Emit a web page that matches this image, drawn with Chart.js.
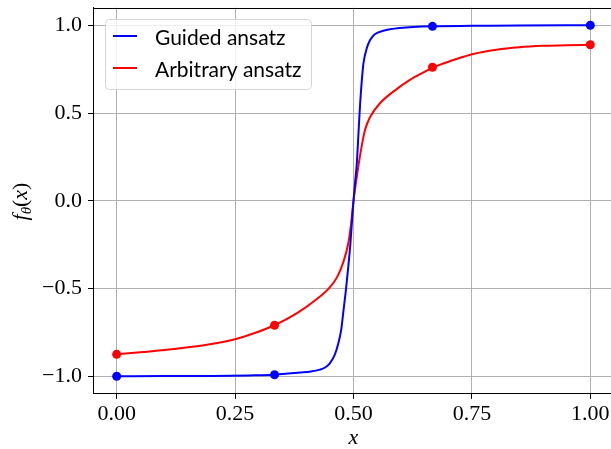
<!DOCTYPE html>
<html>
<head>
<meta charset="utf-8">
<script src="https://cdn.jsdelivr.net/npm/chart.js@4.4.0/dist/chart.umd.min.js"></script>
<style>
  html, body { margin: 0; padding: 0; background: #fff; overflow: hidden; }
</style>
</head>
<body>
<canvas id="graficoAnsatz" width="620" height="449"></canvas>
<script>
// curves
const guidedX = [0, 0.1, 0.2, 0.28, 0.333, 0.387, 0.41, 0.429, 0.44, 0.45, 0.461, 0.468, 0.474, 0.479, 0.484, 0.489, 0.4935, 0.497, 0.5, 0.5035, 0.507, 0.512, 0.5145, 0.518, 0.521, 0.528, 0.535, 0.545, 0.563, 0.598, 0.667, 0.75, 0.85, 1.0];
const guidedY = [-1.0, -0.999, -0.998, -0.995, -0.991, -0.979, -0.973, -0.962, -0.95, -0.926, -0.873, -0.812, -0.736, -0.622, -0.508, -0.375, -0.242, -0.11, 0.0, 0.11, 0.214, 0.46, 0.574, 0.70, 0.783, 0.869, 0.916, 0.949, 0.969, 0.985, 0.995, 0.997, 0.999, 1.0];

const arbitraryX = [0, 0.056, 0.127, 0.197, 0.25, 0.29, 0.333, 0.38, 0.42, 0.448, 0.466, 0.479, 0.489, 0.495, 0.5, 0.507, 0.514, 0.524, 0.535, 0.556, 0.587, 0.62, 0.645, 0.667, 0.711, 0.739, 0.75, 0.802, 0.85, 0.9, 0.95, 1.0];
const arbitraryY = [-0.875, -0.862, -0.843, -0.818, -0.789, -0.755, -0.709, -0.641, -0.565, -0.499, -0.432, -0.345, -0.242, -0.128, 0.0, 0.137, 0.26, 0.40, 0.477, 0.556, 0.628, 0.69, 0.728, 0.759, 0.802, 0.826, 0.835, 0.861, 0.875, 0.883, 0.887, 0.889];

// the four evaluation points (dots)
const sampleX = [0, 0.3333, 0.6667, 1.0];
const guidedSampleY = [-1.0, -0.991, 0.994, 1.0];
const arbitrarySampleY = [-0.875, -0.709, 0.761, 0.889];

const xTicks = [0, 0.25, 0.5, 0.75, 1.0];
const yTicks = [-1.0, -0.5, 0.0, 0.5, 1.0];
const seriesLabels = ['Guided ansatz', 'Arbitrary ansatz'];
const seriesColors = ['#0000ff', '#ff0000'];

const toPoints = (xs, ys) => xs.map((x, i) => ({ x: x, y: ys[i] }));
const serif = "'Liberation Serif', 'Times New Roman', serif";

// top spine, legend box and the y title with its subscript
const extras = {
  id: 'extras',
  afterDatasetsDraw(chart) {
    const { ctx, chartArea: a } = chart;
    ctx.save();
    ctx.strokeStyle = '#000';
    ctx.lineWidth = 1;
    ctx.beginPath();
    ctx.moveTo(a.left, Math.round(a.top) + 0.5);
    ctx.lineTo(a.right, Math.round(a.top) + 0.5);
    ctx.stroke();

    // legend
    ctx.beginPath();
    ctx.roundRect(105.5, 19.5, 206, 70, 4);
    ctx.fillStyle = 'rgba(255,255,255,0.8)';
    ctx.fill();
    ctx.strokeStyle = '#d6d6d6';
    ctx.stroke();
    ctx.font = "21px Lato, 'DejaVu Sans', sans-serif";
    ctx.textBaseline = 'alphabetic';
    ctx.textAlign = 'left';
    seriesLabels.forEach((label, i) => {
      const y = 36 + i * 32;
      ctx.strokeStyle = seriesColors[i];
      ctx.lineWidth = 2;
      ctx.beginPath();
      ctx.moveTo(113, y);
      ctx.lineTo(137, y);
      ctx.stroke();
      ctx.fillStyle = '#000';
      ctx.fillText(label, 155, y + 9);
    });
    ctx.restore();
  },
  afterDraw(chart) {
    const ctx = chart.ctx;
    ctx.save();
    ctx.translate(0, 201.5);
    ctx.rotate(-Math.PI / 2);
    ctx.fillStyle = '#000';
    ctx.textBaseline = 'alphabetic';
    const parts = [
      { t: 'f', f: 'italic 22px ' + serif, dy: 0 },
      { t: 'θ', f: 'italic 15px ' + serif, dy: 4 },
      { t: '(', f: '22px ' + serif, dy: 0 },
      { t: 'x', f: 'italic 22px ' + serif, dy: 0 },
      { t: ')', f: '22px ' + serif, dy: 0 }
    ];
    let w = 0;
    parts.forEach(p => { ctx.font = p.f; p.w = ctx.measureText(p.t).width; w += p.w; });
    let x = -w / 2;
    parts.forEach(p => {
      ctx.font = p.f;
      ctx.fillText(p.t, x, 27 + p.dy);
      x += p.w;
    });
    ctx.restore();
  }
};

const curve = (label, xs, ys, color) => ({
  label: label,
  data: toPoints(xs, ys),
  showLine: true,
  borderColor: color,
  borderWidth: 2,
  pointRadius: 0,
  cubicInterpolationMode: 'monotone'
});

const dots = (label, ys, color) => ({
  label: label,
  data: toPoints(sampleX, ys),
  backgroundColor: color,
  borderWidth: 0,
  pointRadius: 4.5
});

new Chart(document.getElementById('graficoAnsatz'), {
  type: 'scatter',
  data: {
    datasets: [
      curve(seriesLabels[0], guidedX, guidedY, seriesColors[0]),
      curve(seriesLabels[1], arbitraryX, arbitraryY, seriesColors[1]),
      dots('guided samples', guidedSampleY, seriesColors[0]),
      dots('arbitrary samples', arbitrarySampleY, seriesColors[1])
    ]
  },
  options: {
    responsive: false,
    animation: false,
    layout: { padding: { top: 7.75, right: 6, bottom: 0, left: 0 } },
    plugins: {
      legend: { display: false },
      tooltip: { enabled: false }
    },
    scales: {
      x: {
        type: 'linear',
        min: -0.05,
        max: 1.05,
        afterBuildTicks: (scale) => { scale.ticks = xTicks.map(v => ({ value: v })); },
        afterFit: (scale) => {
          scale.height = 55.15;
          scale.paddingLeft = 0;
          scale.paddingRight = 0;
        },
        ticks: {
          color: '#000',
          padding: 2,
          font: { family: serif, size: 22 },
          callback: (v) => v.toFixed(2)
        },
        grid: { color: '#b0b0b0', lineWidth: 1, tickLength: 5, tickColor: '#000' },
        border: { color: '#000', width: 1 },
        title: {
          display: true,
          text: 'x',
          color: '#000',
          padding: { top: 0, bottom: 0 },
          font: { family: serif, size: 22, style: 'italic', lineHeight: 1 }
        }
      },
      y: {
        min: -1.1,
        max: 1.1,
        afterBuildTicks: (scale) => { scale.ticks = yTicks.map(v => ({ value: v })); },
        afterFit: (scale) => {
          scale.width = 93;
          scale.paddingTop = 0;
          scale.paddingBottom = 0;
        },
        ticks: {
          color: '#000',
          padding: 6,
          font: { family: serif, size: 22 },
          callback: (v) => v.toFixed(1).replace('-', '\u2212')
        },
        grid: { color: '#b0b0b0', lineWidth: 1, tickLength: 5, tickColor: '#000' },
        border: { color: '#000', width: 1 }
      }
    }
  },
  plugins: [extras]
});
</script>
</body>
</html>
